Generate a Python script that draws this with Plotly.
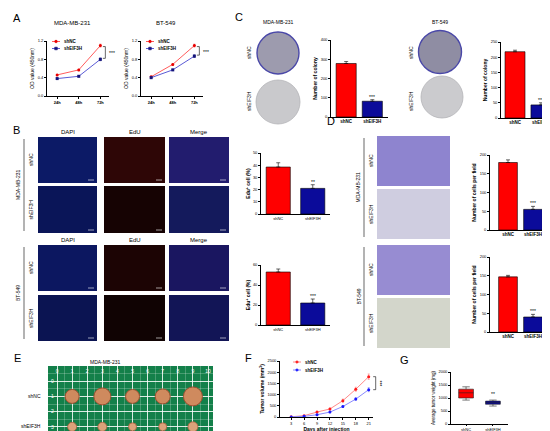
import plotly.graph_objects as go

W, H = 550, 431
FONT = "Arial, Liberation Sans, sans-serif"
RED = "#ff0000"
NAVY = "#0b0b9a"

# ---------------- values ----------------
hours = ["24h", "48h", "72h"]
od_mda_nc = [0.46, 0.57, 1.10]
od_mda_sh = [0.38, 0.43, 0.80]
od_bt_nc = [0.42, 0.69, 1.10]
od_bt_sh = [0.40, 0.57, 0.87]
od_err = [0.012, 0.015, 0.03]

groups = ["shNC", "shEIF3H"]
edu_mda = [38.5, 21.0]
edu_mda_err = [3.5, 3.0]
edu_bt = [53.0, 22.0]
edu_bt_err = [3.0, 4.0]
colony_mda = [278, 82]
colony_mda_err = [10, 8]
colony_bt = [218, 43]
colony_bt_err = [5, 7]
cells_mda = [180, 55]
cells_mda_err = [7, 8]
cells_bt = [147, 40]
cells_bt_err = [4, 7]

days = [3, 6, 9, 12, 15, 18, 21]
vol_nc = [10, 60, 220, 360, 730, 1240, 1800]
vol_nc_err = [5, 15, 30, 40, 70, 90, 120]
vol_sh = [5, 30, 100, 220, 470, 800, 1220]
vol_sh_err = [5, 10, 20, 30, 40, 60, 90]

# tumour weight box stats
weight_low = [920, 690]
weight_q1 = [1000, 760]
weight_med = [1200, 820]
weight_q3 = [1340, 880]
weight_high = [1430, 920]

# tumours lying on the cutting mat (mat grid units)
mat_cols = [1, 3, 5, 7, 9]
mat_row_nc = 1
mat_row_sh = 3
tumor_nc_size = [14, 17, 14, 15, 19]
tumor_sh_size = [9, 9, 8, 8, 10]

# ---------------- helpers ----------------
fig = go.Figure()
axes = {}
spec = {}
shapes = []
annots = []


def names(n):
    s = "" if n == 1 else str(n)
    return "xaxis" + s, "yaxis" + s, "x" + s, "y" + s


def base_axis():
    return dict(showline=True, linecolor="black", linewidth=0.7, ticks="outside",
                ticklen=2, tickwidth=0.6, tickcolor="black", showgrid=False,
                zeroline=False, automargin=False, fixedrange=True,
                tickfont=dict(size=4, family=FONT, color="black"))


def add_axes(n, xpx, ypx, xr, yr, **kw):
    xa, ya, _, _ = names(n)
    spec[n] = dict(x=xpx, y=ypx, xr=xr, yr=yr)
    ax = base_axis()
    ax.update(domain=[xpx[0] / W, xpx[1] / W], range=list(xr), anchor=names(n)[3])
    ax.update(kw.get("x", {}))
    ay = base_axis()
    ay.update(domain=[1 - ypx[1] / H, 1 - ypx[0] / H], range=list(yr), anchor=names(n)[2])
    ay.update(kw.get("y", {}))
    axes[xa] = ax
    axes[ya] = ay


def to_px(n, xv, yv):
    s = spec[n]
    x = s["x"][0] + (xv - s["xr"][0]) / (s["xr"][1] - s["xr"][0]) * (s["x"][1] - s["x"][0])
    y = s["y"][1] - (yv - s["yr"][0]) / (s["yr"][1] - s["yr"][0]) * (s["y"][1] - s["y"][0])
    return x, y


def txt(x, y, text, size=5, angle=0, bold=False, xanchor="center", color="black"):
    if bold:
        text = "<b>" + text + "</b>"
    annots.append(dict(xref="paper", yref="paper", x=x / W, y=1 - y / H, text=text,
                       showarrow=False, textangle=angle, xanchor=xanchor, yanchor="middle",
                       font=dict(size=size, family=FONT, color=color)))


def rect(x0, y0, x1, y1, fill, line=None, layer="below"):
    shapes.append(dict(type="rect", xref="paper", yref="paper", x0=x0 / W, x1=x1 / W,
                       y0=1 - y1 / H, y1=1 - y0 / H, fillcolor=fill,
                       line=dict(width=0 if line is None else 0.6, color=line or fill),
                       layer=layer))


def circle(cx, cy, r, fill, line, lw, layer="below"):
    shapes.append(dict(type="circle", xref="paper", yref="paper", x0=(cx - r) / W,
                       x1=(cx + r) / W, y0=1 - (cy + r) / H, y1=1 - (cy - r) / H,
                       fillcolor=fill, line=dict(color=line, width=lw), layer=layer))


def seg(x0, y0, x1, y1, w=0.6, color="black"):
    shapes.append(dict(type="line", xref="paper", yref="paper", x0=x0 / W, x1=x1 / W,
                       y0=1 - y0 / H, y1=1 - y1 / H, line=dict(color=color, width=w)))


def bracket(x, ytop, ybot, stars, vertical=False):
    path = "M {a},{b} L {c},{b} L {c},{d} L {a},{d}".format(
        a=(x - 2.5) / W, b=1 - ytop / H, c=x / W, d=1 - ybot / H)
    shapes.append(dict(type="path", xref="paper", yref="paper", path=path,
                       line=dict(color="black", width=0.6)))
    if vertical:
        txt(x + 4, (ytop + ybot) / 2, stars, size=5, angle=90)
    else:
        txt(x + 2, (ytop + ybot) / 2 + 1, stars, size=5, xanchor="left")


def legend_item(x, y, lcol, mcol, label, sym="circle"):
    seg(x, y, x + 8, y, w=1, color=lcol)
    cx = x + 4
    if sym == "circle":
        circle(cx, y, 1.4, mcol, mcol, 0.3, layer="above")
    elif sym == "square":
        rect(cx - 1.3, y - 1.3, cx + 1.3, y + 1.3, mcol, mcol, layer="above")
    else:
        path = "M {a},{m} L {c},{t} L {b},{m} L {c},{d} Z".format(
            a=(cx - 1.6) / W, b=(cx + 1.6) / W, c=cx / W, m=1 - y / H,
            t=1 - (y - 1.6) / H, d=1 - (y + 1.6) / H)
        shapes.append(dict(type="path", xref="paper", yref="paper", path=path,
                           fillcolor=mcol, line=dict(color=mcol, width=0.3)))
    txt(x + 10, y, "<b>%s</b>" % label, size=4.5, xanchor="left")


def bar_panel(n, vals, errs, xpx, ypx, xr, ymax, dtick, ytitle, stars, width,
              bold_ticks=True, title_bold=True):
    ticktext = ["<b>%s</b>" % g if bold_ticks else g for g in groups]
    add_axes(n, xpx, ypx, xr, (0, ymax),
             x=dict(tickvals=[0, 1], ticktext=ticktext, ticks="", ticklen=0,
                    tickfont=dict(size=4.5 if bold_ticks else 4, family=FONT, color="black")),
             y=dict(dtick=dtick, title=dict(text="<b>%s</b>" % ytitle if title_bold else ytitle,
                                            font=dict(size=5, family=FONT), standoff=2)))
    _, _, xn, yn = names(n)
    fig.add_trace(go.Bar(x=[0, 1], y=vals, width=width, xaxis=xn, yaxis=yn,
                         marker=dict(color=[RED, NAVY], line=dict(color="black", width=0.6)),
                         error_y=dict(type="data", array=errs, arrayminus=[0, 0],
                                      color="black", thickness=0.6, width=2),
                         showlegend=False))
    sx, sy = to_px(n, 1, vals[1] + errs[1])
    txt(sx, sy - 3, stars, size=5)


# ---------------- A : growth curves ----------------
txt(9, 10, "A", size=11)
for n, xpx, title, nc, sh in [(1, (39, 101), "MDA-MB-231", od_mda_nc, od_mda_sh),
                              (2, (133, 195), "BT-549", od_bt_nc, od_bt_sh)]:
    add_axes(n, xpx, (33, 88), (-0.47, 2.4), (0, 1.2),
             x=dict(tickvals=[0, 1, 2], ticktext=["<b>%s</b>" % h for h in hours]),
             y=dict(tickvals=[0, 0.4, 0.8, 1.2], tickformat=".1f",
                    title=dict(text="OD value (450nm)", font=dict(size=5, family=FONT),
                               standoff=3)))
    _, _, xn, yn = names(n)
    fig.add_trace(go.Scatter(x=[0, 1, 2], y=nc, mode="lines+markers", xaxis=xn, yaxis=yn,
                             line=dict(color="#ff5c5c", width=1),
                             marker=dict(color="#e80000", size=3),
                             error_y=dict(type="data", array=od_err, color="#e80000",
                                          thickness=0.5, width=1),
                             showlegend=False))
    fig.add_trace(go.Scatter(x=[0, 1, 2], y=sh, mode="lines+markers", xaxis=xn, yaxis=yn,
                             line=dict(color="#5b5bd6", width=1),
                             marker=dict(color="#14147a", size=3, symbol="square"),
                             error_y=dict(type="data", array=od_err, color="#14147a",
                                          thickness=0.5, width=1),
                             showlegend=False))
    txt((xpx[0] + xpx[1]) / 2 - 6, 15, title, size=6)
    legend_item(xpx[0] + 5, 33.5, "#ff5c5c", "#e80000", "shNC", "circle")
    legend_item(xpx[0] + 5, 40.5, "#5b5bd6", "#14147a", "shEIF3H", "square")
    bx, ytop = to_px(n, 2, nc[2])
    _, ybot = to_px(n, 2, sh[2])
    bracket(bx + 5, ytop + 1, ybot - 1, "***")

# ---------------- B : EdU staining ----------------
txt(8, 122, "B", size=11)
cols = [(30, 89), (96, 157), (161, 221)]
heads = ["DAPI", "EdU", "Merge"]
b_rows = [((129, 175), (178, 225), 124, "MDA-MB-231",
           ["#0c1a66", "#2e0606", "#221c6e"], ["#0a1558", "#160303", "#141a5c"]),
          ((237, 283), (287, 333), 232, "BT-549",
           ["#0c1760", "#1c0404", "#1a1660"], ["#0b1452", "#100303", "#121556"])]
for r1, r2, hy, line_name, c1, c2 in b_rows:
    for (x0, x1), hd, f1, f2 in zip(cols, heads, c1, c2):
        txt((x0 + x1) / 2, hy, hd, size=6)
        rect(x0, r1[0], x1, r1[1], f1)
        rect(x0, r2[0], x1, r2[1], f2)
        for (ya, yb) in (r1, r2):
            seg(x1 - 9, yb - 3, x1 - 3, yb - 3, w=0.6, color="white")
    txt(23, (r1[0] + r1[1]) / 2, "shNC", size=5, angle=-90)
    txt(23, (r2[0] + r2[1]) / 2, "shEIF3H", size=5, angle=-90)
    txt(10, (r1[0] + r2[1]) / 2, line_name, size=5, angle=-90)
    seg(16, r1[0] + 2, 16, r2[1] - 2)

bar_panel(3, edu_mda, edu_mda_err, (253, 322), (145, 206), (-0.5, 1.5), 50, 10,
          "Edu<sup>+</sup> cell (%)", "**", 0.7, bold_ticks=False)
bar_panel(4, edu_bt, edu_bt_err, (253, 322), (257, 317), (-0.5, 1.5), 60, 20,
          "Edu<sup>+</sup> cell (%)", "***", 0.7, bold_ticks=False)

# ---------------- C : colony formation ----------------
txt(231, 9, "C", size=11)
txt(270, 14, "MDA-MB-231", size=5)
txt(432, 14, "BT-549", size=5)
circle(270, 45, 21, "#9d9bae", "#4a48a8", 1.4)
circle(270, 94, 22, "#c9c9cc", "#b4b4b8", 0.8)
circle(432, 44, 21.5, "#8f8da3", "#4a48a8", 1.4)
circle(434, 89, 21, "#cbcbce", "#b4b4b8", 0.8)
for x in (241, 403):
    txt(x, 45, "shNC", size=5, angle=-90)
    txt(x, 93, "shEIF3H", size=5, angle=-90)
bar_panel(5, colony_mda, colony_mda_err, (323, 380), (32, 109), (-0.58, 1.6), 400, 100,
          "Number of colony", "***", 0.77)
bar_panel(6, colony_bt, colony_bt_err, (493, 548), (34, 110), (-0.54, 1.58), 250, 50,
          "Number of colony", "***", 0.77)

# ---------------- D : transwell ----------------
txt(323, 113, "D", size=11)
d_rows = [((128, 178), (181, 231), "MDA-MB-231", "#8e84cf", "#cfcde0"),
          ((237, 287), (290, 340), "BT-549", "#978cd2", "#d3d6cb")]
for r1, r2, line_name, f1, f2 in d_rows:
    rect(369, r1[0], 442, r1[1], f1)
    rect(369, r2[0], 442, r2[1], f2)
    txt(363, (r1[0] + r1[1]) / 2, "shNC", size=5, angle=-90)
    txt(363, (r2[0] + r2[1]) / 2, "shEIF3H", size=5, angle=-90)
    txt(350, (r1[0] + r2[1]) / 2, line_name, size=5, angle=-90)
    seg(356, r1[0] + 2, 356, r2[1] - 2)
bar_panel(7, cells_mda, cells_mda_err, (482, 540), (147, 222), (-0.72, 1.6), 200, 50,
          "Number of cells per field", "***", 0.75)
bar_panel(8, cells_bt, cells_bt_err, (482, 540), (249, 324), (-0.72, 1.6), 200, 50,
          "Number of cells per field", "***", 0.75)

# ---------------- E : tumours on cutting mat ----------------
txt(9, 350, "E", size=11)
txt(97, 354, "MDA-MB-231", size=5)
rect(40, 358, 205, 431, "#13804a")
add_axes(9, (40, 205), (358, 431), (-0.6, 10.33), (3.8, -1.0),
         x=dict(side="top", tickvals=list(range(11)), ticklabelposition="inside", ticks="",
                showline=False, showgrid=True, gridcolor="rgba(255,255,255,0.8)",
                gridwidth=0.6, minor=dict(dtick=0.5, showgrid=True,
                                          gridcolor="rgba(255,255,255,0.22)", gridwidth=0.4),
                tickfont=dict(size=5, family=FONT, color="white")),
         y=dict(tickvals=[0, 1, 2, 3], ticklabelposition="inside", ticks="", showline=False,
                showgrid=True, gridcolor="rgba(255,255,255,0.8)", gridwidth=0.6,
                minor=dict(dtick=0.5, showgrid=True, gridcolor="rgba(255,255,255,0.22)",
                           gridwidth=0.4),
                tickfont=dict(size=5, family=FONT, color="white")))
fig.add_trace(go.Scatter(x=mat_cols, y=[mat_row_nc] * len(mat_cols), mode="markers",
                         xaxis="x9", yaxis="y9", showlegend=False,
                         marker=dict(size=tumor_nc_size, color="#cf8a5e", opacity=1,
                                     line=dict(color="#9a4f30", width=1))))
fig.add_trace(go.Scatter(x=mat_cols, y=[mat_row_sh] * len(mat_cols), mode="markers",
                         xaxis="x9", yaxis="y9", showlegend=False,
                         marker=dict(size=tumor_sh_size, color="#dba27a", opacity=1,
                                     line=dict(color="#a8603e", width=0.8))))
txt(35, 388, "shNC", size=5, xanchor="right")
txt(35, 418, "shEIF3H", size=5, xanchor="right")

# ---------------- F : tumour volume ----------------
txt(240, 350, "F", size=11)
add_axes(10, (272, 365), (353, 409), (0.4, 22), (0, 2500),
         x=dict(tickvals=days, title=dict(text="<b>Days after injection</b>",
                                           font=dict(size=5, family=FONT), standoff=1)),
         y=dict(dtick=500, title=dict(text="<b>Tumor volume (mm<sup>3</sup>)</b>",
                                      font=dict(size=5, family=FONT), standoff=2)))
fig.add_trace(go.Scatter(x=days, y=vol_nc, mode="lines+markers", xaxis="x10", yaxis="y10",
                         line=dict(color="#ff8a8a", width=1), marker=dict(color="#ff1a1a", size=3),
                         error_y=dict(type="data", array=vol_nc_err, color="#ff6060",
                                      thickness=0.5, width=1), showlegend=False))
fig.add_trace(go.Scatter(x=days, y=vol_sh, mode="lines+markers", xaxis="x10", yaxis="y10",
                         line=dict(color="#8a8aff", width=1), marker=dict(color="#1a1aff", size=3),
                         error_y=dict(type="data", array=vol_sh_err, color="#6060ff",
                                      thickness=0.5, width=1), showlegend=False))
legend_item(285, 354, "#ff8a8a", "#ff1a1a", "shNC", "diamond")
legend_item(285, 362, "#8a8aff", "#1a1aff", "shEIF3H", "diamond")
fx, ftop = to_px(10, days[-1], vol_nc[-1])
_, fbot = to_px(10, days[-1], vol_sh[-1])
bracket(fx + 7, ftop, fbot, "***", vertical=True)

# ---------------- G : tumour weight ----------------
txt(396, 352, "G", size=11)
add_axes(11, (443, 500), (364, 416), (-0.56, 1.56), (0, 2000),
         x=dict(tickvals=[0, 1], ticktext=groups, ticklen=1),
         y=dict(dtick=500, title=dict(text="Average tumor weight (mg)",
                                      font=dict(size=4.5, family=FONT), standoff=2)))
for i, col in enumerate([RED, NAVY]):
    fig.add_trace(go.Box(x=[i], q1=[weight_q1[i]], median=[weight_med[i]], q3=[weight_q3[i]],
                         lowerfence=[weight_low[i]], upperfence=[weight_high[i]],
                         xaxis="x11", yaxis="y11", width=0.55, whiskerwidth=0.5,
                         fillcolor=col, line=dict(color="#222222", width=0.6),
                         showlegend=False))
gx, gy = to_px(11, 1, weight_high[1])
txt(gx, gy - 6, "**", size=5)

fig.update_layout(width=W, height=H, margin=dict(l=0, r=0, t=0, b=0),
                  paper_bgcolor="white", plot_bgcolor="rgba(0,0,0,0)",
                  font=dict(family=FONT, color="black"), showlegend=False,
                  shapes=shapes, annotations=annots, **axes)

fig.write_html("out.html")
